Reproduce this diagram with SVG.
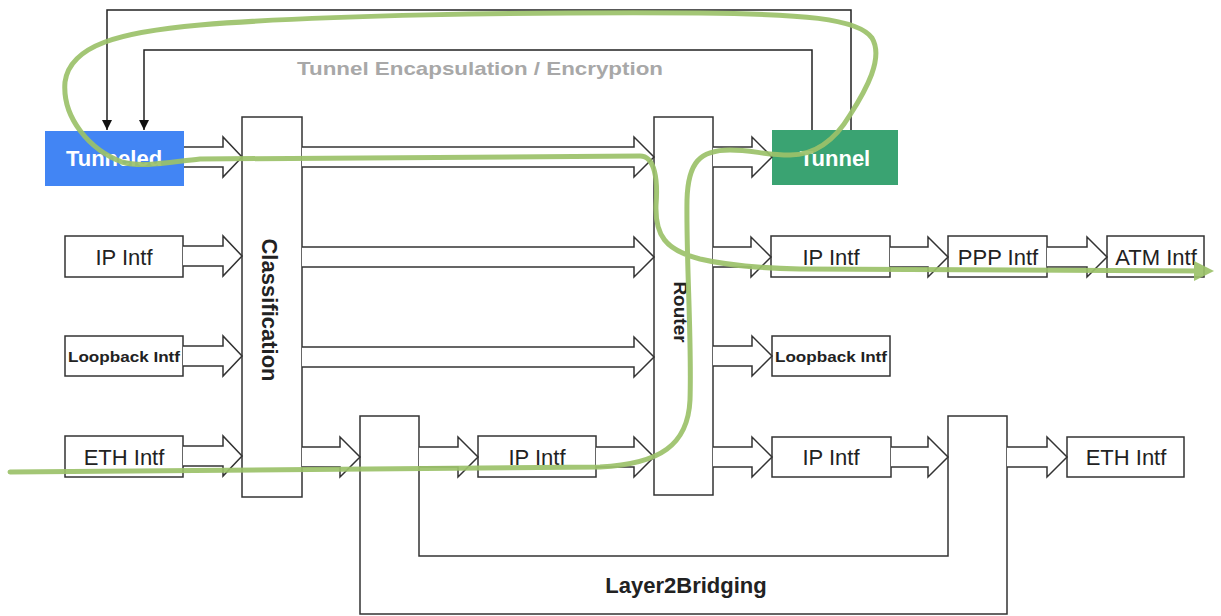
<svg xmlns="http://www.w3.org/2000/svg" width="1221" height="616" viewBox="0 0 1221 616">
<defs>
<style>
.box{fill:#fff;stroke:#333;stroke-width:1.5}
.harrow{fill:#fff;stroke:#333;stroke-width:1.5;stroke-linejoin:miter}
.line{fill:none;stroke:#222;stroke-width:1.5}
.lbl{font-family:"Liberation Sans",Arial,sans-serif;font-size:22px;fill:#222;text-anchor:middle}
.bold{font-weight:bold}
.small{font-size:15px;font-weight:bold}
.flow{fill:none;stroke:#9cc26a;stroke-width:5;stroke-linecap:round;stroke-linejoin:round;opacity:0.92}
</style>
<marker id="tri" viewBox="0 0 10 10" refX="10" refY="5" markerWidth="10" markerHeight="10" markerUnits="userSpaceOnUse" orient="auto">
<path d="M0,0 L10,5 L0,10 z" fill="#111"/>
</marker>
<marker id="gtri" viewBox="0 0 10 10" refX="6" refY="5" markerWidth="4" markerHeight="4" orient="auto">
<path d="M0,0 L10,5 L0,10 z" fill="#9cc26a"/>
</marker>
</defs>
<rect width="1221" height="616" fill="#fff"/>

<g id="node-tunneled">
<rect x="45" y="131" width="139" height="55" fill="#4285f4"/>
<text class="lbl bold" x="114" y="166" fill="#fff" style="fill:#fff">Tunneled</text>
</g>
<g id="node-tunnel">
<rect x="772" y="130" width="126" height="55" fill="#3aa372"/>
<text class="lbl bold" x="835" y="166" style="fill:#fff">Tunnel</text>
</g>
<g id="node-ip-left">
<rect class="box" x="65" y="236" width="118" height="41"/>
<text class="lbl" x="124" y="265">IP Intf</text>
</g>
<g id="node-loopback-left">
<rect class="box" x="65" y="336" width="118" height="40"/>
<text class="lbl small" x="124" y="362" textLength="112" lengthAdjust="spacingAndGlyphs">Loopback Intf</text>
</g>
<g id="node-eth-left">
<rect class="box" x="65" y="436" width="118" height="41"/>
<text class="lbl" x="124" y="465">ETH Intf</text>
</g>
<g id="node-classification">
<rect class="box" x="242" y="117" width="60" height="380"/>
<text class="lbl bold" transform="translate(270,310) rotate(90)" x="0" y="8">Classification</text>
</g>
<g id="node-router">
<rect class="box" x="654" y="117" width="59" height="378"/>
<text class="lbl bold" style="font-size:19px" transform="translate(681,312) rotate(90)" x="0" y="7">Router</text>
</g>
<g id="node-bridging">
<path class="box" d="M360,416 H419 V556 H948 V416 H1007 V614 H360 Z"/>
<text class="lbl bold" x="686" y="593">Layer2Bridging</text>
</g>
<g id="node-ip-mid">
<rect class="box" x="478" y="436" width="118" height="41"/>
<text class="lbl" x="537" y="465">IP Intf</text>
</g>
<g id="node-ip-right">
<rect class="box" x="771" y="236" width="119" height="41"/>
<text class="lbl" x="831" y="265">IP Intf</text>
</g>
<g id="node-ppp">
<rect class="box" x="948" y="236" width="99" height="41"/>
<text class="lbl" x="998" y="265">PPP Intf</text>
</g>
<g id="node-atm">
<rect class="box" x="1107" y="236" width="97" height="41"/>
<text class="lbl" x="1156" y="265">ATM Intf</text>
</g>
<g id="node-loopback-right">
<rect class="box" x="772" y="336" width="118" height="40"/>
<text class="lbl small" x="831" y="362" textLength="112" lengthAdjust="spacingAndGlyphs">Loopback Intf</text>
</g>
<g id="node-ip-right-bottom">
<rect class="box" x="772" y="437" width="119" height="40"/>
<text class="lbl" x="831" y="465">IP Intf</text>
</g>
<g id="node-eth-right">
<rect class="box" x="1067" y="437" width="117" height="40"/>
<text class="lbl" x="1126" y="465">ETH Intf</text>
</g>
<g id="label-tunnel-enc">
<text x="480" y="75" text-anchor="middle" font-family="Liberation Sans, Arial, sans-serif" font-size="19" font-weight="bold" fill="#a8a8a8" textLength="366" lengthAdjust="spacingAndGlyphs">Tunnel Encapsulation / Encryption</text>
</g>

<g id="connectors">
<path class="line" d="M851,130 V10 H107 V130" marker-end="url(#tri)"/>
<path class="line" d="M812,130 V50 H144 V130" marker-end="url(#tri)"/>
<!-- hollow arrows -->
<path class="harrow" d="M184,147 H223 V137 L242,157 L223,177 V167 H184"/>
<path class="harrow" d="M183,246 H223 V236 L242,256 L223,276 V266 H183"/>
<path class="harrow" d="M183,346 H223 V336 L242,356 L223,376 V366 H183"/>
<path class="harrow" d="M183,446 H223 V436 L242,456 L223,476 V466 H183"/>
<path class="harrow" d="M302,147 H634 V137 L654,157 L634,177 V167 H302"/>
<path class="harrow" d="M302,247 H634 V237 L654,257 L634,277 V267 H302"/>
<path class="harrow" d="M302,347 H634 V337 L654,357 L634,377 V367 H302"/>
<path class="harrow" d="M302,447 H340 V437 L360,457 L340,477 V467 H302"/>
<path class="harrow" d="M419,447 H458 V437 L478,457 L458,477 V467 H419"/>
<path class="harrow" d="M596,447 H634 V437 L654,457 L634,477 V467 H596"/>
<path class="harrow" d="M713,147 H752 V137 L772,157 L752,177 V167 H713"/>
<path class="harrow" d="M713,247 H751 V237 L771,257 L751,277 V267 H713"/>
<path class="harrow" d="M890,247 H928 V237 L948,257 L928,277 V267 H890"/>
<path class="harrow" d="M1047,247 H1087 V237 L1107,257 L1087,277 V267 H1047"/>
<path class="harrow" d="M713,346 H752 V336 L772,356 L752,376 V366 H713"/>
<path class="harrow" d="M713,447 H752 V437 L772,457 L752,477 V467 H713"/>
<path class="harrow" d="M891,447 H928 V437 L948,457 L928,477 V467 H891"/>
<path class="harrow" d="M1007,447 H1047 V437 L1067,457 L1047,477 V467 H1007"/>
<!-- packet flow -->
<path class="flow" marker-end="url(#gtri)" d="M10,472 L600,467 C660,464 688,445 690,400 C692,340 686,260 687,200 C688,162 700,150 730,150 C752,150 765,155 790,155 C815,155 835,140 850,115 C866,90 884,58 872,38 C858,18 800,14 700,13 C520,12 320,15 200,25 C120,32 70,45 65,82 C62,118 90,150 122,162 C142,168 170,162 200,159 L640,156 C655,156 658,180 656,205 C655,235 665,250 700,259 C730,266 760,268 800,269 L1206,271"/>
</g>
</svg>
